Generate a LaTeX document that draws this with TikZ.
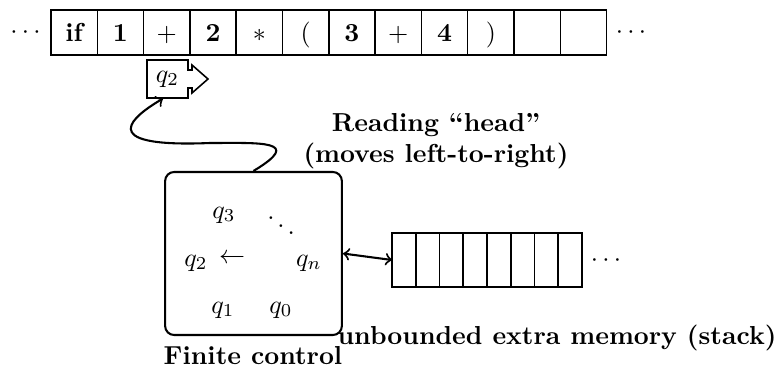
\documentclass[tikz,border=0pt]{standalone}
\begin{document}
\begin{tikzpicture}[x=0.3846pt,y=-0.3846pt,
  cell/.style={draw,semithick,minimum width=17.8pt,minimum height=17.3pt,inner sep=0pt,outer sep=0pt,font=\bfseries,text height=7pt,text depth=0pt},
  scell/.style={draw,semithick,minimum width=9.13pt,minimum height=20.8pt,inner sep=0pt,outer sep=0pt},
  lbl/.style={font=\bfseries,inner sep=0pt},
  st/.style={inner sep=0pt}]
\useasboundingbox (0,0) rectangle (778,370);
% tape
\foreach \t [count=\i] in {if,1,$+$,2,$*$,$($,3,$+$,4,$)$,{},{}}
  \node[cell] (c\i) at ({51+46.3*(\i-0.5)},32.5) {\t};
\node[st,anchor=base] (ldots) at (25.5,38.5) {$\cdots$};
\node[st,anchor=base] (rdots) at (631,38.5) {$\cdots$};
% head
\node[st,minimum width=15.8pt,minimum height=14.6pt] (head) at (167.5,79) {$q_2$};
\begin{scope}[shift={(head.center)}]
\draw[semithick] (-20.5,-19) -- (20.5,-19) -- (20.5,-9) -- (24.5,-9) -- (24.5,-14)
  -- (40.5,0) -- (24.5,14) -- (24.5,9) -- (20.5,9) -- (20.5,19) -- (-20.5,19) -- cycle;
\end{scope}
% finite control
\node[draw,thick,rounded corners=3.5pt,minimum width=68pt,minimum height=62.7pt,inner sep=0pt] (fc) at (253.5,253.5) {};
\node[st,anchor=base] (q3) at (224,218) {$q_3$};
\node[st] (dd) at (281,218) {$\ddots$};
\node[st,anchor=base] (q2) at (196,266) {$q_2$};
\node[st] (la) at (232,259) {$\leftarrow$};
\node[st,anchor=base] (qn) at (309,266) {$q_n$};
\node[st,anchor=base] (q1) at (223,313) {$q_1$};
\node[st,anchor=base] (q0) at (281,313) {$q_0$};
% stack
\foreach \i in {1,...,8}
  \node[scell] (s\i) at ({392+23.75*(\i-0.5)},260) {};
\node[st,anchor=base] (sdots) at (606,266.5) {$\cdots$};
% connectors
\draw[<->,thick] (fc.east) -- (s1.west);
\draw[->,thick] (fc.north) .. controls (305,140) and (260,143) .. (210,143)
  .. controls (90,148) and (135,115) .. ([xshift=-1.7pt]head.south);
% labels
\node[lbl,align=center] (rh) at (436,141) {Reading ``head''\\(moves left-to-right)};
\node[lbl,anchor=base] (fcl) at (253,364) {Finite control};
\node[lbl,anchor=base] (mem) at (557,344) {unbounded extra memory (stack)};
\end{tikzpicture}
\end{document}
